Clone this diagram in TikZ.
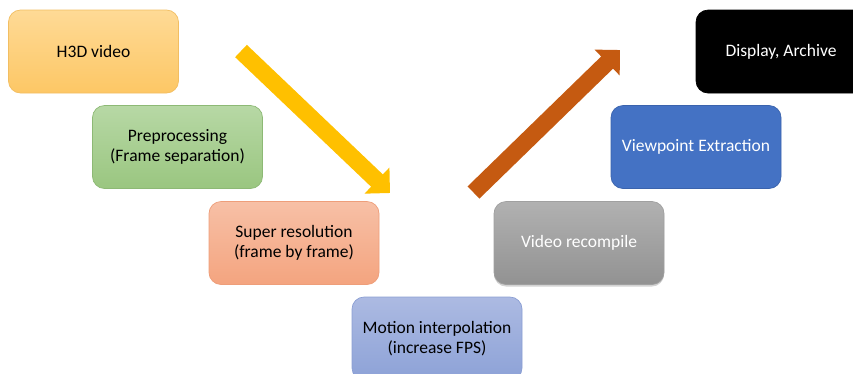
\documentclass[tikz,border=0pt]{standalone}
\usepackage{fontspec}
\setmainfont{Carlito}
\usetikzlibrary{arrows.meta,shadows}
\definecolor{ytop}{HTML}{FEDA96}\definecolor{ybot}{HTML}{FDC765}\definecolor{ybrd}{HTML}{F2BE62}
\definecolor{gtop}{HTML}{B7D8A5}\definecolor{gbot}{HTML}{9AC680}\definecolor{gbrd}{HTML}{8DB975}
\definecolor{stop}{HTML}{F7C0A6}\definecolor{sbot}{HTML}{F4A47F}\definecolor{sbrd}{HTML}{EE9E7A}
\definecolor{btop}{HTML}{ACBAE2}\definecolor{bbot}{HTML}{8DA2D7}\definecolor{bbrd}{HTML}{8A9ED3}
\definecolor{rtop}{HTML}{B1B1B1}\definecolor{rbot}{HTML}{929292}\definecolor{rbrd}{HTML}{A0A0A0}
\definecolor{vpfill}{HTML}{4472C4}\definecolor{vpbrd}{HTML}{3A63AD}
\definecolor{yarrow}{HTML}{FFC000}\definecolor{oarrow}{HTML}{C55A11}
\tikzset{
  stage/.style={rounded corners=12pt, minimum width=170pt, minimum height=83pt,
    align=center, font=\fontsize{17.5}{20.5}\selectfont, line width=0.7pt, inner sep=0pt},
  bigarrow/.style={line width=17pt, -{Triangle[width=35pt,length=18pt]}}
}
\begin{document}
\begin{tikzpicture}[x=1pt,y=-1pt]
\useasboundingbox (0,0) rectangle (853,373);
\clip (0,0) rectangle (853,373);
\node[stage, draw=ybrd, top color=ytop, bottom color=ybot] (h3d) at (93.5,51.5) {H3D video};
\node[stage, draw=gbrd, top color=gtop, bottom color=gbot] (pre) at (177.5,147) {Preprocessing\\(Frame separation)};
\node[stage, draw=sbrd, top color=stop, bottom color=sbot] (sup) at (294,243) {Super resolution\\(frame by frame)};
\node[stage, draw=bbrd, top color=btop, bottom color=bbot] (mot) at (437,338.5) {Motion interpolation\\(increase FPS)};
\node[stage, draw=rbrd, top color=rtop, bottom color=rbot, text=white,
  drop shadow={shadow xshift=0pt, shadow yshift=-2pt, opacity=0.35}] (rec) at (579,243) {Video recompile};
\node[stage, draw=vpbrd, fill=vpfill, text=white] (vp) at (696,147) {Viewpoint Extraction};
\node[stage, draw=black, fill=black, text=white] (disp) at (781,51.5) {Display, Archive};
\coordinate (ya) at (241,51);
\coordinate (yb) at (390,193);
\coordinate (oa) at (473.5,192.5);
\coordinate (ob) at (620,50);
\draw[bigarrow, yarrow] (ya) -- (yb);
\draw[bigarrow, oarrow] (oa) -- (ob);
\end{tikzpicture}
\end{document}
